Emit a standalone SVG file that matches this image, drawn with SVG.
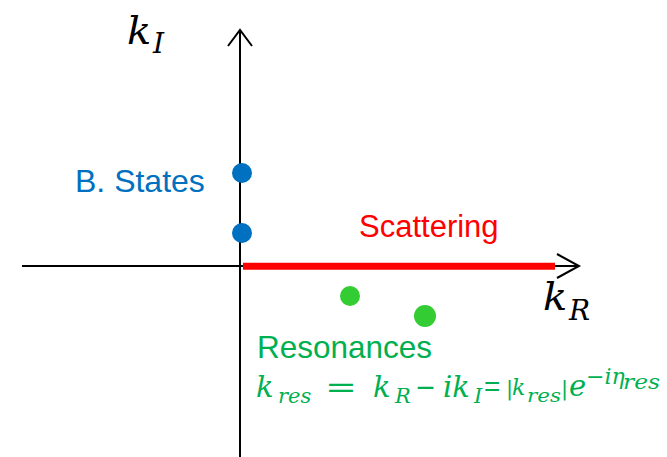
<svg xmlns="http://www.w3.org/2000/svg" width="667" height="457" viewBox="0 0 667 457">
<style>
.ax{stroke:#000;stroke-width:2;fill:none}
.m{font-family:"DejaVu Serif","Liberation Serif",serif;font-style:italic}
.n{font-style:normal}
.s{font-family:"Liberation Sans",Arial,sans-serif}
.g{fill:#00B050}
</style>
<rect width="667" height="457" fill="#fff"/>
<g id="connectors">
<path class="ax" d="M240 457V30M228 46L240 30L252 46"/>
<path class="ax" d="M22 266H579M557 254L579 266L557 278"/>
<path d="M243 266.3H555" stroke="#FF0000" stroke-width="7"/>
</g>
<g id="axis-labels">
<text class="m" x="127" y="44" font-size="40">k</text>
<text class="m" x="153" y="53" font-size="28">I</text>
<text class="m" x="543" y="310" font-size="40">k</text>
<text class="m" x="569" y="320" font-size="28">R</text>
</g>
<g id="bound-states">
<circle cx="242" cy="173" r="10" fill="#0070C0"/>
<circle cx="242" cy="233" r="10" fill="#0070C0"/>
<text class="s" x="75" y="192" font-size="32" fill="#0070C0">B. States</text>
</g>
<g id="scattering">
<text class="s" x="359" y="237" font-size="31" fill="#FF0000">Scattering</text>
</g>
<g id="resonances">
<circle cx="350" cy="296" r="10" fill="#33CC33"/>
<circle cx="425" cy="316" r="11" fill="#33CC33"/>
<text class="s g" x="257" y="358" font-size="31.5">Resonances</text>
<text class="m g" font-size="29" x="256" y="397">k</text>
<text class="m g" font-size="21" x="278" y="403">res</text>
<text class="m n g" font-size="29" x="325" y="397" textLength="32" lengthAdjust="spacingAndGlyphs">=</text>
<text class="m g" font-size="29" x="373" y="397">k</text>
<text class="m g" font-size="21" x="395" y="403">R</text>
<text class="m n g" font-size="29" x="415" y="397" textLength="21" lengthAdjust="spacingAndGlyphs">−</text>
<text class="m g" font-size="29" x="443" y="397">ik</text>
<text class="m g" font-size="21" x="474" y="403">I</text>
<text class="s g" font-size="28" x="484" y="396">=</text>
<text class="m n g" font-size="21" x="506" y="395">|</text>
<text class="m g" font-size="22" x="512" y="395">k</text>
<text class="m g" font-size="19" x="527" y="402" textLength="34" lengthAdjust="spacingAndGlyphs">res</text>
<text class="m n g" font-size="21" x="561" y="395">|</text>
<text class="m g" font-size="29" x="569" y="396">e</text>
<text class="m g" font-size="22" x="586" y="384">−iη</text>
<text class="m g" font-size="21" x="623" y="389" textLength="37" lengthAdjust="spacingAndGlyphs">res</text>
</g>
</svg>
